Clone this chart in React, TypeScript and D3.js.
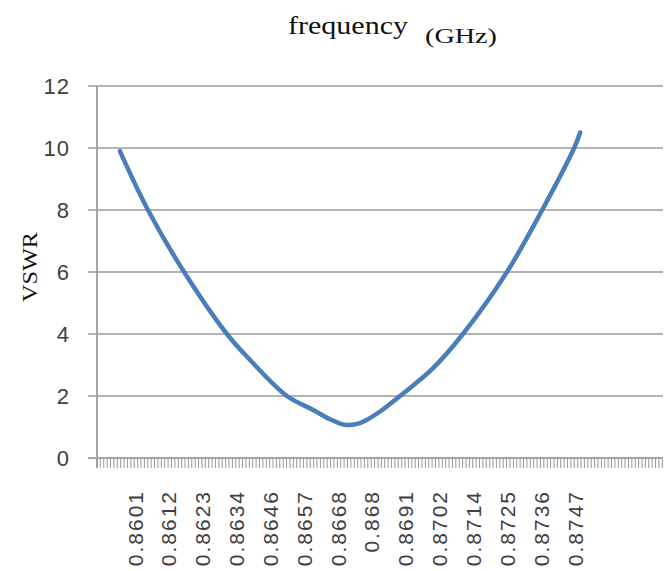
import React from 'react';
import * as d3 from 'd3';

// ---- data ----
const yTickValues = [0, 2, 4, 6, 8, 10, 12];
const xTickLabels = [
  '0.8601', '0.8612', '0.8623', '0.8634', '0.8646', '0.8657', '0.8668',
  '0.868', '0.8691', '0.8702', '0.8714', '0.8725', '0.8736', '0.8747',
];
const freqGHz = [
  0.8596, 0.86053, 0.86173, 0.86315, 0.86392, 0.86514, 0.86601, 0.86657,
  0.86707, 0.86747, 0.86777, 0.86823, 0.86889, 0.86999, 0.87098, 0.87244,
  0.87361, 0.87467, 0.87487,
];
const vswr = [
  9.9, 8.0, 6.0, 4.0, 3.16, 2.0, 1.55, 1.25,
  1.07, 1.1, 1.22, 1.5, 2.0, 2.9, 4.0, 6.0,
  8.0, 10.0, 10.5,
];
const firstLabelFreq = 0.8601;
const lastLabelFreq = 0.8747;

export default function App() {
  const W = 668;
  const H = 571;
  const plotL = 97;
  const plotR = 663;
  const plotT = 86;
  const plotB = 458;

  const labelStep = (lastLabelFreq - firstLabelFreq) / (xTickLabels.length - 1);
  const x = d3
    .scaleLinear()
    .domain([firstLabelFreq - 38 * (labelStep / 33.85), firstLabelFreq + 528 * (labelStep / 33.85)])
    .range([plotL, plotR]);
  const y = d3.scaleLinear().domain([0, 12]).range([plotB, plotT]);

  const minorStep = labelStep / 10;
  const d0 = x.domain()[0];
  const d1 = x.domain()[1];
  const minorTicks = d3.range(d0, d1 + 1e-9, minorStep);

  const pts = freqGHz.map((f, i) => [f, vswr[i]] as [number, number]);
  const line = d3
    .line<[number, number]>()
    .x((d) => x(d[0]))
    .y((d) => y(d[1]))
    .curve(d3.curveCatmullRom.alpha(0.5));

  const gridColor = '#b3b3b3';
  const textColor = '#404040';

  return (
    <svg
      width={W}
      height={H}
      style={{ position: 'absolute', left: 0, top: 0, background: '#fff' }}
    >
      <rect x={0} y={0} width={W} height={H} fill="#fff" />
      {/* title */}
      <text
        x={288}
        y={34}
        fontFamily="'Liberation Serif', 'DejaVu Serif', serif"
        fontSize={25}
        textLength={120}
        lengthAdjust="spacingAndGlyphs"
        fill="#111"
      >
        frequency
      </text>
      <text
        x={425}
        y={43}
        fontFamily="'Liberation Serif', 'DejaVu Serif', serif"
        fontSize={21}
        textLength={72}
        lengthAdjust="spacingAndGlyphs"
        fill="#111"
      >
        (GHz)
      </text>
      {/* y axis title */}
      <text
        transform={`translate(30,267) rotate(-90)`}
        textAnchor="middle"
        dominantBaseline="central"
        fontFamily="'Liberation Serif', 'DejaVu Serif', serif"
        fontSize={21}
        textLength={70}
        lengthAdjust="spacingAndGlyphs"
        fill="#111"
      >
        VSWR
      </text>

      {/* horizontal gridlines + y ticks */}
      {yTickValues.map((v) => (
        <g key={v}>
          <line
            x1={88}
            x2={plotR}
            y1={y(v)}
            y2={y(v)}
            stroke={v === 0 ? '#a6a6a6' : gridColor}
            strokeWidth={2}
          />
          <text
            x={70}
            y={y(v)}
            textAnchor="end"
            dominantBaseline="central"
            fontFamily="'Liberation Sans', Arial, sans-serif"
            fontSize={22}
            letterSpacing={1}
            fill={textColor}
          >
            {v}
          </text>
        </g>
      ))}
      {/* y axis line */}
      <line x1={plotL} x2={plotL} y1={plotT} y2={plotB + 10} stroke="#a6a6a6" strokeWidth={2} />

      {/* x minor ticks */}
      {minorTicks.map((t, i) => (
        <line
          key={i}
          x1={x(t)}
          x2={x(t)}
          y1={plotB}
          y2={plotB + 10}
          stroke="#9a9a9a"
          strokeWidth={1}
        />
      ))}

      {/* x labels */}
      {xTickLabels.map((lab, i) => {
        const px = x(firstLabelFreq + i * labelStep);
        return (
          <text
            key={lab}
            transform={`translate(${px},490) rotate(-90)`}
            textAnchor="end"
            dominantBaseline="central"
            fontFamily="'Liberation Sans', Arial, sans-serif"
            fontSize={21}
            letterSpacing={2}
            fill={textColor}
          >
            {lab}
          </text>
        );
      })}

      {/* curve */}
      <path
        d={line(pts) || ''}
        fill="none"
        stroke="#4a7ebb"
        strokeWidth={4.5}
        strokeLinecap="round"
        strokeLinejoin="round"
      />
    </svg>
  );
}
